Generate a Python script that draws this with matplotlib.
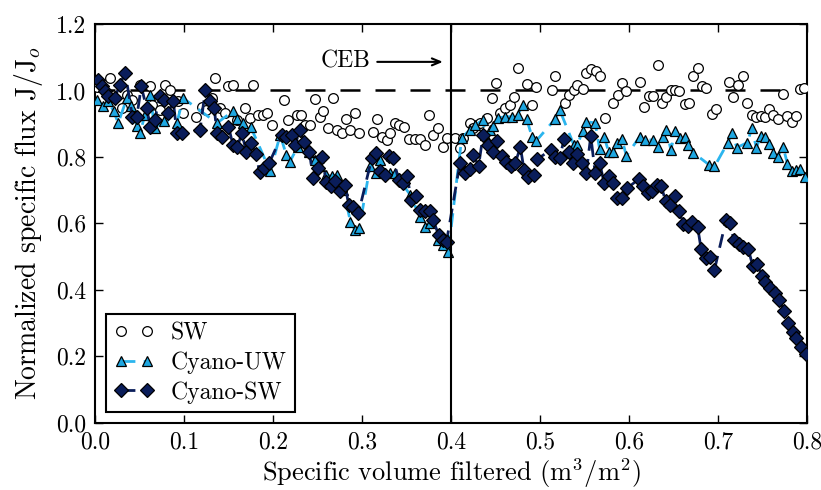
import numpy as np
import matplotlib
matplotlib.use('Agg')
import matplotlib.pyplot as plt

plt.rcParams['font.family'] = 'serif'
plt.rcParams['font.serif'] = ['cmr10', 'DejaVu Serif']
plt.rcParams['mathtext.fontset'] = 'cm'
plt.rcParams['axes.unicode_minus'] = False
plt.rcParams['axes.formatter.use_mathtext'] = True

# SW (open circles)
sw_x = [0.002, 0.017, 0.030, 0.036, 0.042, 0.051, 0.062, 0.064, 0.073, 0.079, 0.084, 0.093, 0.099,
        0.114, 0.120, 0.125, 0.131, 0.135, 0.140, 0.146, 0.150, 0.155, 0.159, 0.169, 0.174, 0.178,
        0.183, 0.189, 0.193, 0.199, 0.212, 0.217, 0.227, 0.232, 0.236, 0.242, 0.247, 0.253, 0.256,
        0.262, 0.267, 0.272, 0.277, 0.282, 0.287, 0.292, 0.297, 0.312, 0.317, 0.322, 0.328, 0.331,
        0.337, 0.342, 0.347, 0.353, 0.360, 0.365, 0.371, 0.375, 0.380, 0.385, 0.391, 0.395,
        0.404, 0.410, 0.414, 0.421, 0.425, 0.433, 0.440, 0.446, 0.451, 0.455, 0.461, 0.466, 0.471,
        0.475, 0.485, 0.491, 0.496, 0.513, 0.517, 0.528, 0.532, 0.538, 0.542, 0.548, 0.552, 0.557,
        0.563, 0.567, 0.573, 0.582, 0.588, 0.592, 0.597, 0.612, 0.617, 0.622, 0.627, 0.632, 0.637,
        0.642, 0.647, 0.652, 0.656, 0.663, 0.667, 0.672, 0.677, 0.682, 0.687, 0.693, 0.698, 0.712,
        0.717, 0.722, 0.728, 0.733, 0.738, 0.743, 0.748, 0.753, 0.757, 0.762, 0.767, 0.773, 0.777,
        0.783, 0.788, 0.792, 0.797]
sw_y = [1.010, 1.037, 0.947, 0.986, 0.972, 1.017, 1.012, 0.957, 0.942, 1.017, 1.002, 0.967, 0.932,
        0.921, 0.951, 0.942, 0.977, 1.037, 0.947, 0.932, 1.012, 1.017, 0.911, 0.947, 0.917, 1.017,
        0.927, 0.927, 0.932, 0.896, 0.972, 0.911, 0.927, 0.927, 0.896, 0.896, 0.974, 0.921, 0.937,
        0.887, 0.977, 0.881, 0.872, 0.914, 0.881, 0.932, 0.873, 0.876, 0.914, 0.860, 0.851, 0.872,
        0.902, 0.896, 0.890, 0.854, 0.854, 0.854, 0.836, 0.927, 0.866, 0.887, 0.831, 0.857,
        0.857, 0.827, 0.857, 0.902, 0.887, 0.902, 0.917, 0.977, 1.022, 0.932, 0.947, 0.957, 0.981,
        1.068, 1.020, 0.957, 1.011, 1.002, 1.042, 0.962, 0.986, 1.002, 1.017, 1.005, 1.052, 1.064,
        1.058, 1.043, 0.917, 0.963, 0.986, 1.022, 0.999, 1.024, 0.951, 0.982, 0.984, 1.077, 0.963,
        0.980, 1.002, 1.002, 0.999, 0.960, 0.962, 1.042, 1.069, 1.012, 1.007, 0.930, 0.944, 1.024,
        0.979, 1.017, 1.042, 0.963, 0.927, 0.921, 0.923, 0.921, 0.944, 0.927, 0.914, 0.990, 0.923,
        0.906, 0.923, 1.005, 1.008]

# Cyano-UW (triangles)
uw_x = [0.002, 0.009, 0.015, 0.021, 0.026, 0.036, 0.041, 0.047, 0.051, 0.056, 0.062, 0.067, 0.078,
        0.092, 0.099, 0.137, 0.155, 0.159, 0.166, 0.175, 0.197, 0.208, 0.215, 0.219, 0.228, 0.234,
        0.240, 0.247, 0.253, 0.260, 0.266, 0.272, 0.279, 0.287, 0.292, 0.297, 0.309, 0.316, 0.320,
        0.331, 0.337, 0.354, 0.365, 0.371, 0.376, 0.385, 0.391, 0.397,
        0.412, 0.421, 0.427, 0.436, 0.438, 0.444, 0.447, 0.453, 0.461, 0.468, 0.475, 0.481, 0.485,
        0.491, 0.496, 0.517, 0.522, 0.538, 0.542, 0.548, 0.552, 0.562, 0.567, 0.572, 0.577, 0.582,
        0.587, 0.592, 0.597, 0.612, 0.618, 0.627, 0.633, 0.638, 0.642, 0.647, 0.652, 0.657, 0.663,
        0.666, 0.672, 0.690, 0.696, 0.711, 0.716, 0.721, 0.733, 0.738, 0.743, 0.748, 0.753, 0.757,
        0.762, 0.767, 0.773, 0.778, 0.783, 0.788, 0.792, 0.798]
uw_y = [0.972, 0.954, 0.967, 0.937, 0.902, 0.977, 0.954, 0.893, 0.873, 0.927, 0.986, 0.887, 0.909,
        0.902, 0.977, 0.902, 0.937, 0.914, 0.902, 0.890, 0.756, 0.866, 0.806, 0.786, 0.831, 0.846,
        0.816, 0.791, 0.771, 0.746, 0.741, 0.746, 0.701, 0.605, 0.580, 0.586, 0.771, 0.751, 0.791,
        0.751, 0.751, 0.686, 0.620, 0.590, 0.601, 0.550, 0.535, 0.515,
        0.857, 0.881, 0.896, 0.911, 0.866, 0.881, 0.893, 0.917, 0.921, 0.921, 0.927, 0.957, 0.914,
        0.860, 0.849, 0.914, 0.942, 0.836, 0.836, 0.879, 0.906, 0.902, 0.823, 0.861, 0.816, 0.816,
        0.842, 0.854, 0.803, 0.861, 0.851, 0.851, 0.831, 0.860, 0.881, 0.821, 0.878, 0.857, 0.861,
        0.836, 0.813, 0.776, 0.771, 0.843, 0.873, 0.828, 0.843, 0.887, 0.827, 0.863, 0.861, 0.839,
        0.812, 0.801, 0.831, 0.779, 0.756, 0.761, 0.764, 0.740]

# Cyano-SW (diamonds)
csw_x = [0.003, 0.008, 0.011, 0.015, 0.022, 0.028, 0.034, 0.042, 0.047, 0.052, 0.058, 0.062, 0.067,
         0.073, 0.078, 0.082, 0.088, 0.092, 0.098, 0.118, 0.124, 0.129, 0.134, 0.137, 0.143, 0.150,
         0.155, 0.160, 0.165, 0.170, 0.175, 0.181, 0.185, 0.190, 0.196, 0.210, 0.215, 0.221, 0.225,
         0.230, 0.235, 0.241, 0.245, 0.250, 0.255, 0.260, 0.265, 0.270, 0.275, 0.281, 0.285, 0.290,
         0.296, 0.311, 0.316, 0.320, 0.326, 0.330, 0.335, 0.341, 0.346, 0.351, 0.355, 0.361, 0.365,
         0.371, 0.376, 0.380, 0.386, 0.391, 0.395,
         0.410, 0.416, 0.421, 0.425, 0.431, 0.436, 0.442, 0.447, 0.452, 0.457, 0.462, 0.467, 0.472,
         0.478, 0.482, 0.487, 0.493, 0.497, 0.512, 0.517, 0.522, 0.527, 0.532, 0.537, 0.542, 0.547,
         0.552, 0.557, 0.562, 0.567, 0.572, 0.578, 0.582, 0.587, 0.592, 0.598, 0.611, 0.616, 0.621,
         0.626, 0.631, 0.636, 0.641, 0.646, 0.652, 0.656, 0.661, 0.666, 0.671, 0.677, 0.681, 0.686,
         0.691, 0.696, 0.709, 0.713, 0.718, 0.724, 0.728, 0.734, 0.739, 0.744, 0.749, 0.753, 0.758,
         0.764, 0.769, 0.774, 0.779, 0.784, 0.788, 0.793, 0.799]
csw_y = [1.032, 1.012, 0.997, 0.982, 0.977, 1.017, 1.054, 0.921, 0.921, 1.012, 0.947, 0.891, 0.911,
         0.982, 0.972, 0.931, 0.967, 0.871, 0.871, 0.881, 1.002, 0.967, 0.947, 0.871, 0.861, 0.891,
         0.836, 0.831, 0.871, 0.816, 0.841, 0.808, 0.753, 0.766, 0.783, 0.866, 0.861, 0.866, 0.836,
         0.881, 0.846, 0.814, 0.736, 0.766, 0.801, 0.723, 0.711, 0.726, 0.696, 0.716, 0.655, 0.650,
         0.630, 0.796, 0.811, 0.756, 0.746, 0.802, 0.796, 0.731, 0.721, 0.741, 0.671, 0.681, 0.641,
         0.636, 0.636, 0.610, 0.565, 0.550, 0.545,
         0.781, 0.751, 0.763, 0.806, 0.773, 0.866, 0.836, 0.816, 0.849, 0.803, 0.786, 0.771, 0.781,
         0.829, 0.761, 0.739, 0.746, 0.793, 0.821, 0.801, 0.796, 0.853, 0.816, 0.781, 0.809, 0.781,
         0.751, 0.863, 0.751, 0.783, 0.721, 0.741, 0.721, 0.676, 0.676, 0.706, 0.733, 0.711, 0.691,
         0.696, 0.716, 0.713, 0.668, 0.655, 0.681, 0.638, 0.598, 0.592, 0.605, 0.590, 0.522, 0.495,
         0.498, 0.460, 0.610, 0.600, 0.550, 0.538, 0.530, 0.522, 0.472, 0.478, 0.442, 0.424, 0.405,
         0.389, 0.369, 0.337, 0.299, 0.274, 0.254, 0.227, 0.207]

x_ticks = [0.0, 0.1, 0.2, 0.3, 0.4, 0.5, 0.6, 0.7, 0.8]
y_ticks = [0.0, 0.2, 0.4, 0.6, 0.8, 1.0, 1.2]
ceb_x = 0.4

uw_color = '#1ea7e1'
uw_line = '#2bb5ee'
csw_color = '#0a1d5a'

fig = plt.figure(figsize=(8.21, 4.9), dpi=100)
ax = fig.add_axes([0.1157, 0.1376, 0.8673, 0.8134])

ax.plot(sw_x, sw_y, linestyle='none', marker='o', ms=7, mfc='white', mec='black', mew=0.9,
        label='SW', zorder=3)
ax.plot(uw_x, uw_y, linestyle=(0, (5, 3)), lw=2, color=uw_line, marker='^', ms=7.5,
        mfc=uw_color, mec='black', mew=0.9, label='Cyano-UW', zorder=4)
ax.plot(csw_x, csw_y, linestyle=(0, (5, 3)), lw=2, color=csw_color, marker='D', ms=7.5,
        mfc=csw_color, mec='black', mew=0.9, label='Cyano-SW', zorder=5)

ax.axhline(1.0, color='black', lw=1.8, linestyle=(0, (8, 6)), zorder=2)
ax.axvline(ceb_x, color='black', lw=1.5, zorder=6)
ax.annotate('', xy=(0.394, 1.086), xytext=(0.314, 1.086),
            arrowprops=dict(arrowstyle='->,head_length=0.6,head_width=0.25', color='black', lw=1.5))
ax.text(0.281, 1.086, 'CEB', fontsize=17, ha='center', va='center')

ax.set_xlim(0, 0.8)
ax.set_ylim(0, 1.2)
ax.set_xticks(x_ticks)
ax.set_yticks(y_ticks)
ax.set_xticklabels(['%.1f' % v for v in x_ticks])
ax.set_yticklabels(['%.1f' % v for v in y_ticks])
ax.tick_params(direction='in', top=True, right=True, length=6, width=1, labelsize=17, pad=6)
for s in ax.spines.values():
    s.set_linewidth(1.5)

ax.set_xlabel('Specific volume filtered (m$^3$/m$^2$)', fontsize=19, labelpad=2)
ax.set_ylabel(r'Normalized specific flux J/J$_o$', fontsize=20, labelpad=8)

leg = ax.legend(loc='lower left', numpoints=2, fontsize=17, fancybox=False, framealpha=1,
                edgecolor='black', borderpad=0.35, labelspacing=0.3, handlelength=1.7,
                handletextpad=0.7, borderaxespad=0, bbox_to_anchor=(0.015, 0.027))
leg.get_frame().set_linewidth(1.5)

fig.savefig('out.png', dpi=100)
